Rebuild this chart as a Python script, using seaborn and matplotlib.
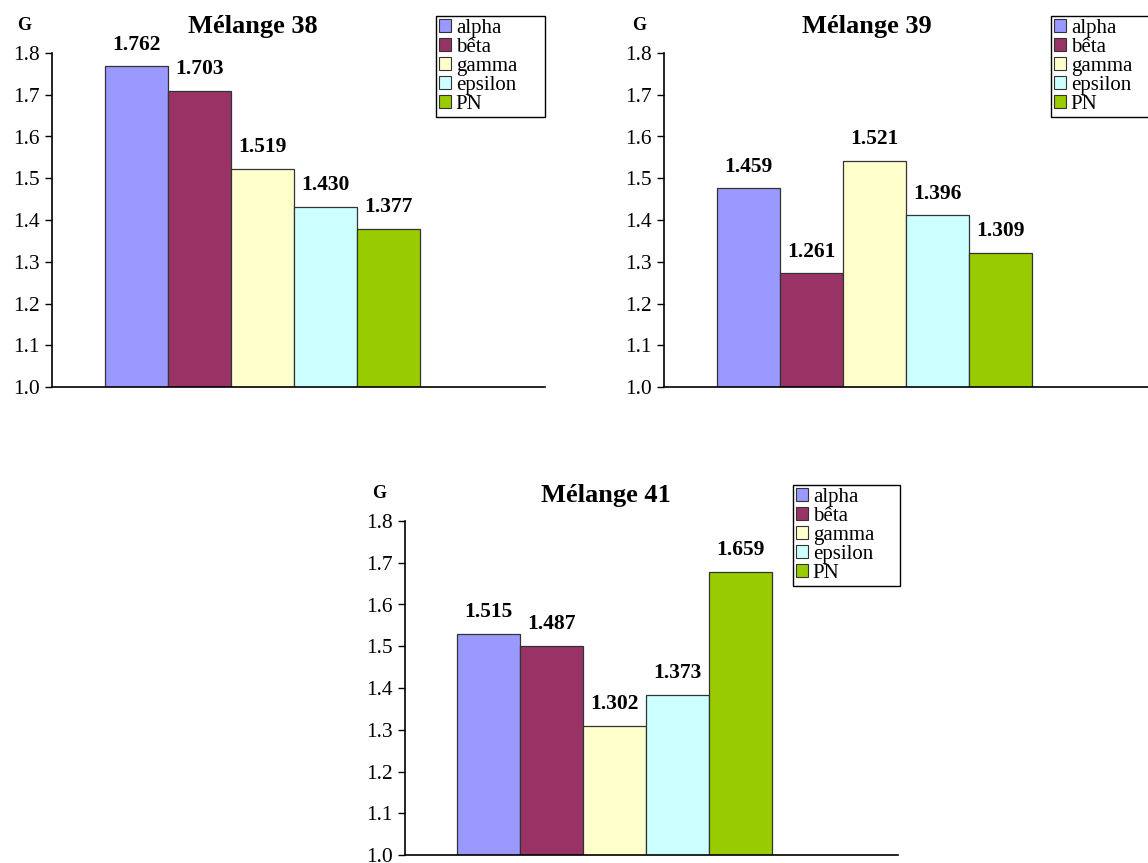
import pandas as pd
import matplotlib
matplotlib.use("Agg")
import matplotlib.pyplot as plt
import seaborn as sns
from matplotlib.patches import Patch

# --- data (bar heights, printed labels as shown) ---
series = ['alpha', 'bêta', 'gamma', 'epsilon', 'PN']
colors = ['#9999FF', '#993366', '#FFFFCC', '#CCFFFF', '#99CC00']

titles = ['Mélange 38', 'Mélange 39', 'Mélange 41']

heights_38 = [1.768, 1.709, 1.522, 1.431, 1.379]
heights_39 = [1.476, 1.272, 1.541, 1.411, 1.321]
heights_41 = [1.529, 1.501, 1.309, 1.383, 1.678]

labels_38 = ['1.762', '1.703', '1.519', '1.430', '1.377']
labels_39 = ['1.459', '1.261', '1.521', '1.396', '1.309']
labels_41 = ['1.515', '1.487', '1.302', '1.373', '1.659']

yticks = [1.0, 1.1, 1.2, 1.3, 1.4, 1.5, 1.6, 1.7, 1.8]

sns.set_style("white")
plt.rcParams['font.family'] = ['Liberation Serif', 'DejaVu Serif']
plt.rcParams['text.color'] = 'black'
plt.rcParams['ytick.color'] = 'black'
plt.rcParams['ytick.labelcolor'] = 'black'

W, H = 1148, 863
fig = plt.figure(figsize=(W / 100, H / 100), dpi=100)

palette = dict(zip(series, colors))

# pixel layout of each panel
panels = [
    dict(h=heights_38, lab=labels_38, ax_x=52, top=53, bot=387, bar0=105,
         title=(253, 27), g=(24, 25), leg=(436, 16, 109)),
    dict(h=heights_39, lab=labels_39, ax_x=664, top=53, bot=387, bar0=717,
         title=(867, 27), g=(639, 25), leg=(1051, 16, 109)),
    dict(h=heights_41, lab=labels_41, ax_x=405, top=521, bot=855, bar0=457,
         title=(606, 495), g=(379, 493), leg=(793, 485, 107)),
]

bar_px = 63
axis_w = 493

for p, title in zip(panels, titles):
    ax = fig.add_axes([p['ax_x'] / W, 1 - p['bot'] / H, axis_w / W, (p['bot'] - p['top']) / H])
    df = pd.DataFrame({'serie': series, 'G': p['h']})
    sns.barplot(data=df, x='serie', y='G', hue='serie', palette=palette, order=series,
                width=1.0, saturation=1, edgecolor='#333333', linewidth=0.9,
                legend=False, ax=ax)

    left = -0.5 - (p['bar0'] - p['ax_x']) / bar_px
    ax.set_xlim(left, left + axis_w / bar_px)
    ax.set_ylim(1.0, 1.8)
    ax.set_yticks(yticks)
    ax.set_yticklabels([f'{t:.1f}' for t in yticks], fontsize=15.5)
    ax.set_xticks([])
    ax.set_xlabel('')
    ax.set_ylabel('')
    ax.tick_params(axis='y', direction='out', length=5, width=1, color='black', pad=4, left=True)
    for s in ['top', 'right']:
        ax.spines[s].set_visible(False)
    for s in ['left', 'bottom']:
        ax.spines[s].set_color('black')
        ax.spines[s].set_linewidth(1.2)

    # value labels
    for i, (v, t) in enumerate(zip(p['h'], p['lab'])):
        ax.annotate(t, (i, v), xytext=(0, 12), textcoords='offset points',
                    ha='center', va='baseline', fontsize=15.5, fontweight='bold')

    fig.text(p['title'][0] / W, 1 - p['title'][1] / H, title, ha='center', va='center',
             fontsize=19, fontweight='bold')
    fig.text(p['g'][0] / W, 1 - p['g'][1] / H, 'G', ha='center', va='center',
             fontsize=13, fontweight='bold')

    handles = [Patch(facecolor=c, edgecolor='#333333', linewidth=0.8) for c in colors]
    lx, ly, lw = p['leg']
    leg = ax.legend(handles, series, loc='upper left',
                    bbox_to_anchor=(lx / W, 1 - ly / H - 0.1, lw / W, 0.1),
                    bbox_transform=fig.transFigure, mode='expand', fontsize=15,
                    frameon=True, fancybox=False, framealpha=1, edgecolor='black',
                    borderpad=0.15, labelspacing=0.0, handlelength=0.55,
                    handleheight=0.55, handletextpad=0.25, borderaxespad=0)
    leg.get_frame().set_linewidth(1.0)

fig.savefig('out.png', dpi=100)
